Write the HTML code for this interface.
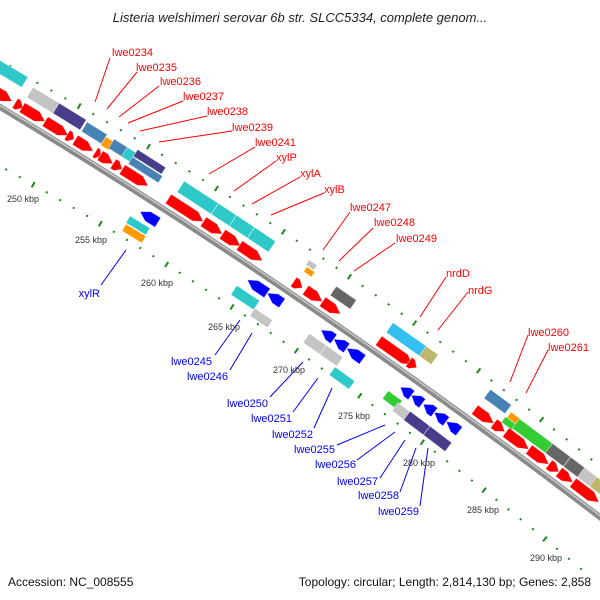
<!DOCTYPE html>
<html><head><meta charset="utf-8"><style>
html,body{margin:0;padding:0;background:#fff;}
svg{display:block;font-family:"Liberation Sans",sans-serif;}
.r{fill:#ff0000;font-size:11px;}
.b{fill:#0000ff;font-size:11px;}
.k{fill:#333;font-size:9px;}
</style></head><body>
<svg id="s" width="600" height="600" viewBox="0 0 600 600" xmlns="http://www.w3.org/2000/svg">
<rect width="600" height="600" fill="#fff"/>
<g id="dots"></g>
<path d="M-5,104 Q300,287 605,521" stroke="#8a8a8a" stroke-width="6" fill="none"/>
<path d="M-5,102.5 Q300,285.5 605,519.5" stroke="#c8c8c8" stroke-width="1.5" fill="none"/>
<g id="feat"></g>
<g stroke="#ff0000" stroke-width="1" fill="none">
<line x1="110" y1="58" x2="95" y2="102"/>
<line x1="137" y1="72" x2="107" y2="109"/>
<line x1="159" y1="86" x2="119" y2="117"/>
<line x1="183" y1="101" x2="128" y2="123"/>
<line x1="207" y1="116" x2="140" y2="131"/>
<line x1="232" y1="131" x2="159" y2="142"/>
<line x1="255" y1="147" x2="209" y2="174"/>
<line x1="276" y1="161" x2="234" y2="191"/>
<line x1="300" y1="177" x2="252" y2="204"/>
<line x1="324" y1="193" x2="271" y2="215"/>
<line x1="350" y1="212" x2="323" y2="250"/>
<line x1="373" y1="228" x2="339" y2="261"/>
<line x1="395" y1="243" x2="354" y2="271"/>
<line x1="446" y1="277" x2="420" y2="317"/>
<line x1="468" y1="292" x2="438" y2="330"/>
<line x1="528" y1="335" x2="510" y2="382"/>
<line x1="548" y1="350" x2="526" y2="393"/>
</g>
<g stroke="#0000ff" stroke-width="1" fill="none">
<line x1="101" y1="285" x2="126" y2="250"/>
<line x1="215" y1="355" x2="240" y2="320"/>
<line x1="230" y1="370" x2="252" y2="333"/>
<line x1="270" y1="397" x2="303" y2="362"/>
<line x1="293" y1="412" x2="318" y2="378"/>
<line x1="314" y1="428" x2="332" y2="388"/>
<line x1="337" y1="445" x2="385" y2="425"/>
<line x1="357" y1="460" x2="395" y2="432"/>
<line x1="380" y1="478" x2="405" y2="440"/>
<line x1="400" y1="492" x2="416" y2="448"/>
<line x1="420" y1="506" x2="428" y2="448"/>
</g>
<g class="r">
<text x="112" y="56">lwe0234</text>
<text x="136" y="71">lwe0235</text>
<text x="160" y="85">lwe0236</text>
<text x="183" y="100">lwe0237</text>
<text x="207" y="115">lwe0238</text>
<text x="232" y="131">lwe0239</text>
<text x="255" y="146">lwe0241</text>
<text x="276" y="161">xylP</text>
<text x="300" y="177">xylA</text>
<text x="324" y="193">xylB</text>
<text x="350" y="211">lwe0247</text>
<text x="374" y="226">lwe0248</text>
<text x="396" y="242">lwe0249</text>
<text x="446" y="277">nrdD</text>
<text x="468" y="294">nrdG</text>
<text x="528" y="336">lwe0260</text>
<text x="548" y="351">lwe0261</text>
</g>
<g class="b" text-anchor="end">
<text x="100" y="297">xylR</text>
<text x="212" y="365">lwe0245</text>
<text x="228" y="380">lwe0246</text>
<text x="268" y="407">lwe0250</text>
<text x="292" y="422">lwe0251</text>
<text x="313" y="438">lwe0252</text>
<text x="335" y="453">lwe0255</text>
<text x="356" y="468">lwe0256</text>
<text x="378" y="485">lwe0257</text>
<text x="399" y="499">lwe0258</text>
<text x="419" y="515">lwe0259</text>
</g>
<g class="k">
<text x="7" y="202">250 kbp</text>
<text x="75" y="243">255 kbp</text>
<text x="141" y="286">260 kbp</text>
<text x="208" y="330">265 kbp</text>
<text x="273" y="373">270 kbp</text>
<text x="338" y="419">275 kbp</text>
<text x="403" y="466">280 kbp</text>
<text x="467" y="513">285 kbp</text>
<text x="530" y="561">290 kbp</text>
</g>
<text x="300" y="22" text-anchor="middle" font-size="13" font-style="italic" fill="#222">Listeria welshimeri serovar 6b str. SLCC5334, complete genom...</text>
<text x="8" y="586" font-size="12" fill="#111">Accession: NC_008555</text>
<text x="591" y="586" font-size="12" fill="#111" text-anchor="end">Topology: circular; Length: 2,814,130 bp; Genes: 2,858</text>
</svg>
<script>
(function(){
var NS="http://www.w3.org/2000/svg";
function mk(Cy){
 function pt(t){return [600*t,(1-t)*(1-t)*107+2*t*(1-t)*Cy+t*t*517];}
 function nrm(t){var dx=600,dy=2*(1-t)*(Cy-107)+2*t*(517-Cy),l=Math.sqrt(dx*dx+dy*dy);return [dy/l,-dx/l];}
 return {pt:pt,at:function(xb,off){var t=xb/600,p=pt(t),n=nrm(t);return [p[0]+n[0]*off,p[1]+n[1]*off];}};
}
var NEW=mk(287),OLD=mk(268);
function poly(g,pts,fill){var e=document.createElementNS(NS,"polygon");e.setAttribute("points",pts.map(function(p){return p[0].toFixed(1)+","+p[1].toFixed(1);}).join(" "));e.setAttribute("fill",fill);e.setAttribute("stroke","rgba(255,255,255,0.6)");e.setAttribute("stroke-width","0.7");g.appendChild(e);}
var F=document.getElementById("feat");
function f(s1,s2,off,h,col,type){
 var at=off>0?NEW.at:OLD.at;
 var x1=s1-off*0.52,x2=s2-off*0.52,a=off+h/2,b=off-h/2,L=Math.min(8,(x2-x1)*0.6);
 var pts;
 if(type==1){pts=[at(x1,a),at(x2-L,a),at(x2,off),at(x2-L,b),at(x1,b)];}
 else if(type==-1){pts=[at(x1,off),at(x1+L,a),at(x2,a),at(x2,b),at(x1+L,b)];}
 else pts=[at(x1,a),at(x2,a),at(x2,b),at(x1,b)];
 poly(F,pts,col);
}
var R="#ff0000",CY="#2ec8c8",G="#c4c4c4",PU="#483d8b",SB="#4682b4",OR="#ff9900",SK="#33c0f0",KH="#bdb76b",DG="#666",GR="#33cc33",BL="#0000ff";
f(-5,25,34,12,CY);
f(30,56,28,12,G);f(56,83,28,12,PU);
f(84,104,27,11,SB);f(103,111,25,10,OR);f(111,125,27,11,SB);f(124,135,27,11,CY);
f(135,163,32,8,PU);f(130,160,23,8,SB);
f(180,214,28,13,CY);f(214,232,28,13,CY);f(232,250,28,13,CY);f(250,271,28,13,CY);
f(306,314,35,6,G);f(304,312,28,6,OR);
f(332,352,26,11,DG);
f(388,422,28,12,SK);f(421,433,28,12,KH);
f(485,506,31,11,SB);f(507,516,27,7,OR);f(502,513,20,7,GR);
f(514,548,24,12,GR);f(547,565,24,12,DG);f(565,580,24,12,DG);f(579,592,24,12,G);f(591,612,24,12,KH);
var reds=[[-8,12],[15,23],[22,45],[45,68],[67,74],[75,93],[95,101],[100,113],[113,122],[122,148],
[168,203],[203,222],[222,240],[239,262],[293,302],[305,322],[322,340],[378,412],[408,416],
[474,493],[493,504],[505,528],[528,548],[548,558],[558,572],[572,598]];
reds.forEach(function(r){f(r[0],r[1],11,11,R,1);});
[[140,158],[248,268],[268,283],[322,335],[335,348],[348,364],[402,413],[413,424],[425,436],[436,448],[448,461]].forEach(function(r){f(r[0],r[1],-21,11,BL,-1);});
f(128,148,-34,8,CY);f(124,144,-43,8,OR);
f(235,258,-37,11,CY);f(254,272,-45,9,G);
f(308,325,-36,11,G);f(325,342,-36,11,G);f(335,355,-48,10,CY);
f(388,402,-36,10,GR);f(398,414,-40,10,G);f(410,430,-40,11,PU);f(430,452,-40,11,PU);
var D=document.getElementById("dots");
var N=3000,ts=[],s=[0],prev;
for(var i=0;i<=N;i++){var t=i/N*1.05-0.02;ts.push(t);var p=OLD.pt(t);if(i>0){s.push(s[i-1]+Math.hypot(p[0]-prev[0],p[1]-prev[1]));}prev=p;}
function tAt(len){for(var i=1;i<s.length;i++){if(s[i]>=len)return ts[i];}return ts[ts.length-1];}
function line(p,q,w){var e=document.createElementNS(NS,"line");e.setAttribute("x1",p[0]);e.setAttribute("y1",p[1]);e.setAttribute("x2",q[0]);e.setAttribute("y2",q[1]);e.setAttribute("stroke","#1a8a1a");e.setAttribute("stroke-width",w);D.appendChild(e);}
function row(off,startX){
 var s0=0;for(var i=0;i<ts.length;i++){if(600*ts[i]>=startX){s0=s[i];break;}}
 var step=15.8;
 for(var k=-60;k<60;k++){var L=s0+k*step;if(L<0||L>s[s.length-1])continue;var t=tAt(L),xb=600*t;
  if(k%5==0){line(OLD.at(xb,off-3),OLD.at(xb,off+3),2);}else{line(OLD.at(xb,off-1),OLD.at(xb,off+1),2);}
 }
}
row(39,60);row(-52,127);
})();
</script>
</body></html>
